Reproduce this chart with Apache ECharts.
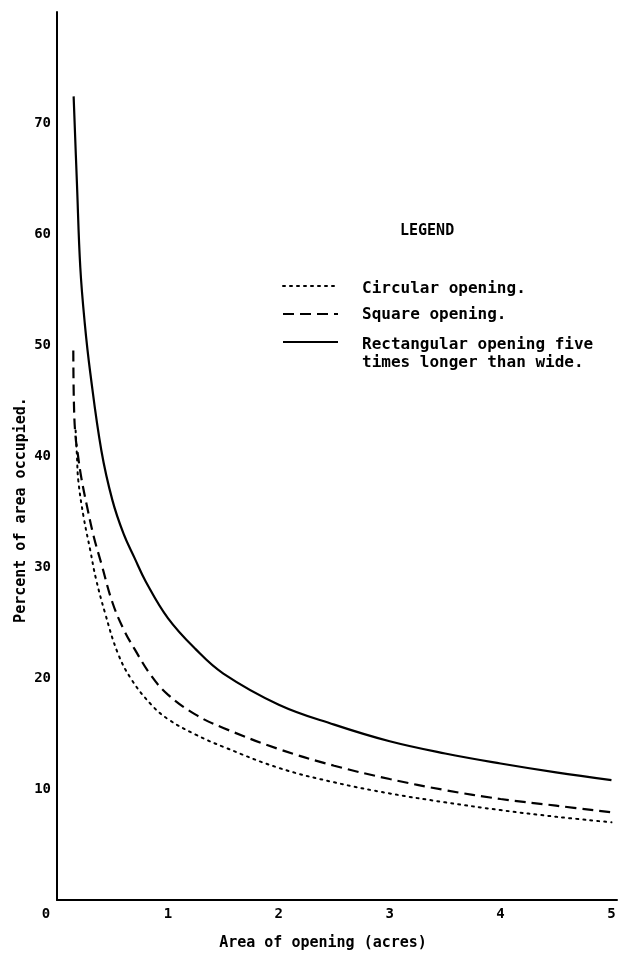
<!DOCTYPE html>
<html>
<head>
<meta charset="utf-8">
<script src="https://cdn.jsdelivr.net/npm/echarts@6/dist/echarts.min.js"></script>
<style>
html,body{margin:0;padding:0;background:#fff;}
#chart{width:624px;height:957px;}
</style>
</head>
<body>
<div id="chart"></div>
<script>
// Area of opening (acres) vs percent of area occupied
const circularX = [0.168, 0.18, 0.192, 0.24, 0.3, 0.35, 0.432, 0.55, 0.676, 0.85, 1.0, 1.25, 1.5, 2.0, 2.5, 3.0, 3.5, 4.0, 4.5, 5.0];
const circularY = [42.3, 40.0, 37.8, 34.5, 31.5, 29.0, 25.9, 22.2, 19.8, 17.6, 16.3, 14.9, 13.8, 11.9, 10.6, 9.6, 8.8, 8.1, 7.5, 7.0];
const squareX   = [0.147, 0.152, 0.165, 0.19, 0.22, 0.27, 0.33, 0.4, 0.5, 0.6, 0.7, 0.85, 1.0, 1.25, 1.5, 2.0, 2.5, 3.0, 3.5, 4.0, 4.5, 5.0];
const squareY   = [49.5, 45.0, 42.0, 40.0, 38.0, 35.5, 32.8, 30.3, 26.8, 24.4, 22.6, 20.2, 18.5, 16.7, 15.5, 13.6, 12.1, 10.9, 9.9, 9.1, 8.5, 7.9];
const rectX     = [0.15, 0.18, 0.21, 0.25, 0.3, 0.4, 0.5, 0.6, 0.7, 0.8, 1.0, 1.25, 1.5, 2.0, 2.5, 3.0, 3.5, 4.0, 4.5, 5.0];
const rectY     = [72.4, 64.5, 57.0, 52.0, 47.5, 40.5, 36.0, 33.0, 30.8, 28.7, 25.4, 22.6, 20.4, 17.6, 15.8, 14.3, 13.2, 12.3, 11.5, 10.8];
const xTicks    = [0, 1, 2, 3, 4, 5];
const yTicks    = [10, 20, 30, 40, 50, 60, 70];
const seriesNames = ['Circular opening.', 'Square opening.', 'Rectangular opening five\ntimes longer than wide.'];
const xTitle = 'Area of opening (acres)';
const yTitle = 'Percent of area occupied.';
const legendTitle = 'LEGEND';

const pairs = (xs, ys) => xs.map((x, i) => [x, ys[i]]);
const FONT = '"DejaVu Sans Mono", "Liberation Mono", monospace';

const chart = echarts.init(document.getElementById('chart'), null, {renderer: 'canvas'});

const lineStyles = [
  {color: '#000', width: 2, type: [2, 5], cap: 'round'},
  {color: '#000', width: 2.2, type: [11, 6]},
  {color: '#000', width: 2.2, type: 'solid'}
];

const option = {
  animation: false,
  backgroundColor: '#fff',
  grid: {left: 57, right: 7, top: 12, bottom: 57, containLabel: false},
  xAxis: {
    type: 'value', min: 0, max: 5.05, interval: 1,
    axisLine: {show: true, lineStyle: {color: '#000', width: 2}},
    axisTick: {show: false},
    splitLine: {show: false},
    axisLabel: {
      margin: 7,
      color: '#000', fontFamily: FONT, fontWeight: 'bold', fontSize: 14,
      formatter: v => {
        if (v === 0) return '{z|0}';
        return xTicks.indexOf(v) >= 0 ? String(v) : '';
      },
      rich: {z: {padding: [0, 22, 0, 0], color: '#000', fontFamily: FONT, fontWeight: 'bold', fontSize: 14}}
    },
    name: xTitle, nameLocation: 'middle', nameGap: 36, nameMoveOverlap: false,
    nameTextStyle: {color: '#000', fontFamily: FONT, fontWeight: 'bold', fontSize: 15, padding: [0, 28, 0, 0]}
  },
  yAxis: {
    type: 'value', min: 0, max: 80, interval: 10,
    axisLine: {show: true, lineStyle: {color: '#000', width: 2}},
    axisTick: {show: false},
    splitLine: {show: false},
    axisLabel: {
      margin: 6,
      color: '#000', fontFamily: FONT, fontWeight: 'bold', fontSize: 14,
      formatter: v => yTicks.indexOf(v) >= 0 ? String(v) : ''
    },
    name: yTitle, nameLocation: 'middle', nameGap: 28, nameRotate: 90, nameMoveOverlap: false,
    nameTextStyle: {color: '#000', fontFamily: FONT, fontWeight: 'bold', fontSize: 15, padding: [0, 108, 0, 0]}
  },
  series: [
    {name: seriesNames[0], type: 'line', data: pairs(circularX, circularY), showSymbol: false, smooth: 0.4, lineStyle: lineStyles[0]},
    {name: seriesNames[1], type: 'line', data: pairs(squareX, squareY), showSymbol: false, smooth: 0.4, lineStyle: lineStyles[1]},
    {name: seriesNames[2], type: 'line', data: pairs(rectX, rectY), showSymbol: false, smooth: 0.4, lineStyle: lineStyles[2]}
  ],
  graphic: [
    {type: 'text', left: 400, top: 224, style: {text: legendTitle, font: 'bold 15px ' + FONT, fill: '#000'}},
    {type: 'line', shape: {x1: 283, y1: 286, x2: 338, y2: 286}, style: {stroke: '#000', lineWidth: 2, lineDash: [2, 5], lineCap: 'round'}},
    {type: 'line', shape: {x1: 283, y1: 314, x2: 338, y2: 314}, style: {stroke: '#000', lineWidth: 2.2, lineDash: [11, 6]}},
    {type: 'line', shape: {x1: 283, y1: 342, x2: 338, y2: 342}, style: {stroke: '#000', lineWidth: 2.2}},
    {type: 'text', left: 362, top: 281, style: {text: seriesNames[0], font: 'bold 16px ' + FONT, fill: '#000'}},
    {type: 'text', left: 362, top: 307, style: {text: seriesNames[1], font: 'bold 16px ' + FONT, fill: '#000'}},
    {type: 'text', left: 362, top: 336, style: {text: seriesNames[2], font: 'bold 16px ' + FONT, fill: '#000', lineHeight: 18}}
  ]
};
chart.setOption(option);
</script>
</body>
</html>
